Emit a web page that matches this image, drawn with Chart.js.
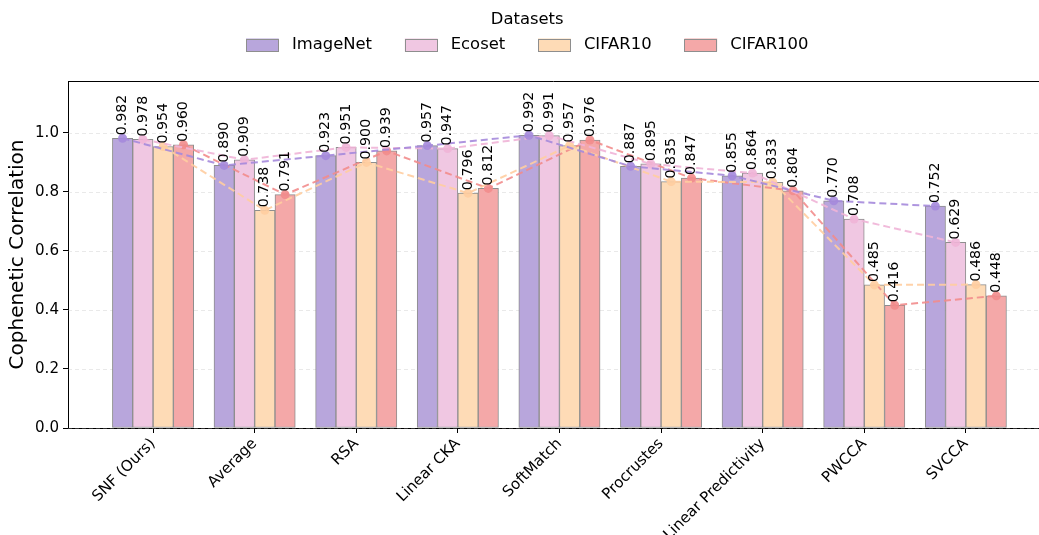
<!DOCTYPE html>
<html>
<head>
<meta charset="utf-8">
<script src="https://cdn.jsdelivr.net/npm/chart.js@4.4.1/dist/chart.umd.min.js"></script>
<style>
  html, body { margin: 0; padding: 0; background: #fff; overflow: hidden; }
  #wrap { width: 1039px; height: 535px; position: relative; }
</style>
</head>
<body>
<div id="wrap"><canvas id="chart" width="1039" height="535"></canvas></div>
<script>
// Methods compared on the x axis
const categories = ['SNF (Ours)', 'Average', 'RSA', 'Linear CKA', 'SoftMatch',
                    'Procrustes', 'Linear Predictivity', 'PWCCA', 'SVCCA'];

// Dataset names (legend order)
const datasetNames = ['ImageNet', 'Ecoset', 'CIFAR10', 'CIFAR100'];

// Cophenetic correlation per method, one array per dataset
const imagenet = [0.982, 0.890, 0.923, 0.957, 0.992, 0.887, 0.855, 0.770, 0.752];
const ecoset   = [0.978, 0.909, 0.951, 0.947, 0.991, 0.895, 0.864, 0.708, 0.629];
const cifar10  = [0.954, 0.738, 0.900, 0.796, 0.957, 0.835, 0.833, 0.485, 0.486];
const cifar100 = [0.960, 0.791, 0.939, 0.812, 0.976, 0.847, 0.804, 0.416, 0.448];

// Y axis tick values
const yTicks = [0.0, 0.2, 0.4, 0.6, 0.8, 1.0];

const seriesValues = [imagenet, ecoset, cifar10, cifar100];

const FONT = '"DejaVu Sans", Verdana, sans-serif';
const barColors  = ['#b8a6dc', '#f0c7e2', '#fedbb6', '#f4a8a8'];
const lineColors = ['rgba(165,138,220,0.9)', 'rgba(240,180,215,0.9)',
                    'rgba(255,205,160,0.9)', 'rgba(242,140,140,0.9)'];
const BAR_W = 0.2;   // width of one bar in category units
const PLOT_RIGHT = 1039;

// each bar sits at category index + group offset
const offsetOf = k => (k - (seriesValues.length - 1) / 2) * BAR_W;

const barSets = seriesValues.map((vals, k) => ({
  type: 'bar',
  label: datasetNames[k],
  data: vals.map((v, i) => ({ x: i + offsetOf(k), y: v })),
  backgroundColor: barColors[k],
  borderColor: '#8e8e8e',
  borderWidth: 1,
  borderSkipped: false,
  barThickness: 20.3,
  grouped: false,
  order: 2
}));

const lineSets = seriesValues.map((vals, k) => ({
  type: 'line',
  label: datasetNames[k] + ' trend',
  data: vals.map((v, i) => ({ x: i + offsetOf(k), y: v })),
  borderColor: lineColors[k],
  backgroundColor: lineColors[k],
  borderWidth: 2,
  borderDash: [7, 4],
  pointRadius: 4.5,
  pointBackgroundColor: lineColors[k],
  pointBorderWidth: 0,
  fill: false,
  tension: 0,
  order: 1
}));

// let the plot run to the right edge of the canvas
const extendRightPlugin = {
  id: 'extendRight',
  afterLayout(chart) {
    const x = chart.scales.x;
    x.right = PLOT_RIGHT;
    x.width = x.right - x.left;
    x.configure();
    chart.chartArea.right = PLOT_RIGHT;
    chart.chartArea.width = PLOT_RIGHT - chart.chartArea.left;
  }
};

// faint dashed horizontal grid and the top frame line
const gridPlugin = {
  id: 'gridAndFrame',
  beforeDatasetsDraw(chart) {
    const { ctx, chartArea: a, scales: { y } } = chart;
    ctx.save();
    ctx.strokeStyle = 'rgba(176,176,176,0.35)';
    ctx.lineWidth = 0.8;
    ctx.setLineDash([4, 3]);
    yTicks.forEach(t => {
      const py = Math.round(y.getPixelForValue(t)) + 0.5;
      ctx.beginPath(); ctx.moveTo(a.left, py); ctx.lineTo(a.right, py); ctx.stroke();
    });
    ctx.restore();
  },
  afterDraw(chart) {
    const { ctx, chartArea: a } = chart;
    ctx.save();
    ctx.strokeStyle = '#000';
    ctx.lineWidth = 1;
    ctx.beginPath(); ctx.moveTo(a.left, a.top + 0.5); ctx.lineTo(a.right, a.top + 0.5); ctx.stroke();
    ctx.restore();
  }
};

// rotated value labels above each bar
const valueLabelPlugin = {
  id: 'valueLabels',
  afterDatasetsDraw(chart) {
    const ctx = chart.ctx;
    ctx.save();
    ctx.fillStyle = '#000';
    ctx.font = '14.2px ' + FONT;
    ctx.textAlign = 'left';
    ctx.textBaseline = 'middle';
    seriesValues.forEach((vals, k) => {
      const meta = chart.getDatasetMeta(k);
      meta.data.forEach((bar, i) => {
        ctx.save();
        ctx.translate(bar.x, bar.y - 3);
        ctx.rotate(-Math.PI / 2);
        ctx.fillText(vals[i].toFixed(3), 0, 0);
        ctx.restore();
      });
    });
    ctx.restore();
  }
};

// legend with title, laid out in one row
const legendPlugin = {
  id: 'datasetLegend',
  afterDraw(chart) {
    const ctx = chart.ctx;
    const fs = 16.4;
    ctx.save();
    ctx.font = fs + 'px ' + FONT;
    const handle = 2 * fs, pad = 0.8 * fs, colGap = 2 * fs;
    const widths = datasetNames.map(n => ctx.measureText(n).width);
    const total = widths.reduce((s, w) => s + handle + pad + w, 0) + colGap * (datasetNames.length - 1);
    let x = 246;
    const cx = x + total / 2;
    const rowY = 45;
    ctx.fillStyle = '#000';
    ctx.textAlign = 'center';
    ctx.textBaseline = 'middle';
    ctx.fillText('Datasets', cx, 20);
    datasetNames.forEach((n, k) => {
      ctx.fillStyle = barColors[k];
      ctx.fillRect(x, rowY - 6.5, handle, 13);
      ctx.strokeStyle = '#8e8e8e';
      ctx.lineWidth = 1;
      ctx.strokeRect(Math.round(x) + 0.5, Math.round(rowY - 6.5) + 0.5, Math.round(handle) - 1, 12);
      ctx.fillStyle = '#000';
      ctx.textAlign = 'left';
      ctx.fillText(n, x + handle + pad, rowY);
      x += handle + pad + widths[k] + colGap;
    });
    ctx.restore();
  }
};

new Chart(document.getElementById('chart'), {
  type: 'bar',
  data: { datasets: [...barSets, ...lineSets] },
  options: {
    responsive: false,
    animation: false,
    devicePixelRatio: 1,
    layout: { padding: { top: 81, left: 0, right: 0, bottom: 0 } },
    plugins: { legend: { display: false }, tooltip: { enabled: false } },
    scales: {
      x: {
        type: 'linear',
        bounds: 'data',
        offset: false,
        min: -0.837,
        max: 8.72,
        afterBuildTicks: s => { s.ticks = categories.map((_, i) => ({ value: i })); },
        afterFit: s => { s.height = 107; s.paddingLeft = 0; s.paddingRight = 0; },
        ticks: {
          autoSkip: false,
          minRotation: 45,
          maxRotation: 45,
          padding: 2,
          color: '#000',
          font: { family: FONT, size: 15.1 },
          callback: v => categories[v] ?? ''
        },
        grid: { offset: false, drawOnChartArea: false, drawTicks: true, tickLength: 5, tickColor: '#000', tickWidth: 1 },
        border: { color: '#000', width: 1 }
      },
      y: {
        bounds: 'data',
        min: 0,
        max: 1.176,
        afterBuildTicks: s => { s.ticks = yTicks.map(v => ({ value: v })); },
        afterFit: s => { s.width = 68; s.paddingTop = 0; s.paddingBottom = 0; },
        ticks: {
          padding: 4,
          color: '#000',
          font: { family: FONT, size: 15.1 },
          callback: v => Number(v).toFixed(1)
        },
        grid: { drawOnChartArea: false, drawTicks: true, tickLength: 5, tickColor: '#000', tickWidth: 1 },
        border: { color: '#000', width: 1 },
        title: {
          display: true,
          text: 'Cophenetic Correlation',
          color: '#000',
          font: { family: FONT, size: 20 },
          padding: { top: 6, bottom: 4 }
        }
      }
    }
  },
  plugins: [extendRightPlugin, gridPlugin, valueLabelPlugin, legendPlugin]
});
</script>
</body>
</html>
